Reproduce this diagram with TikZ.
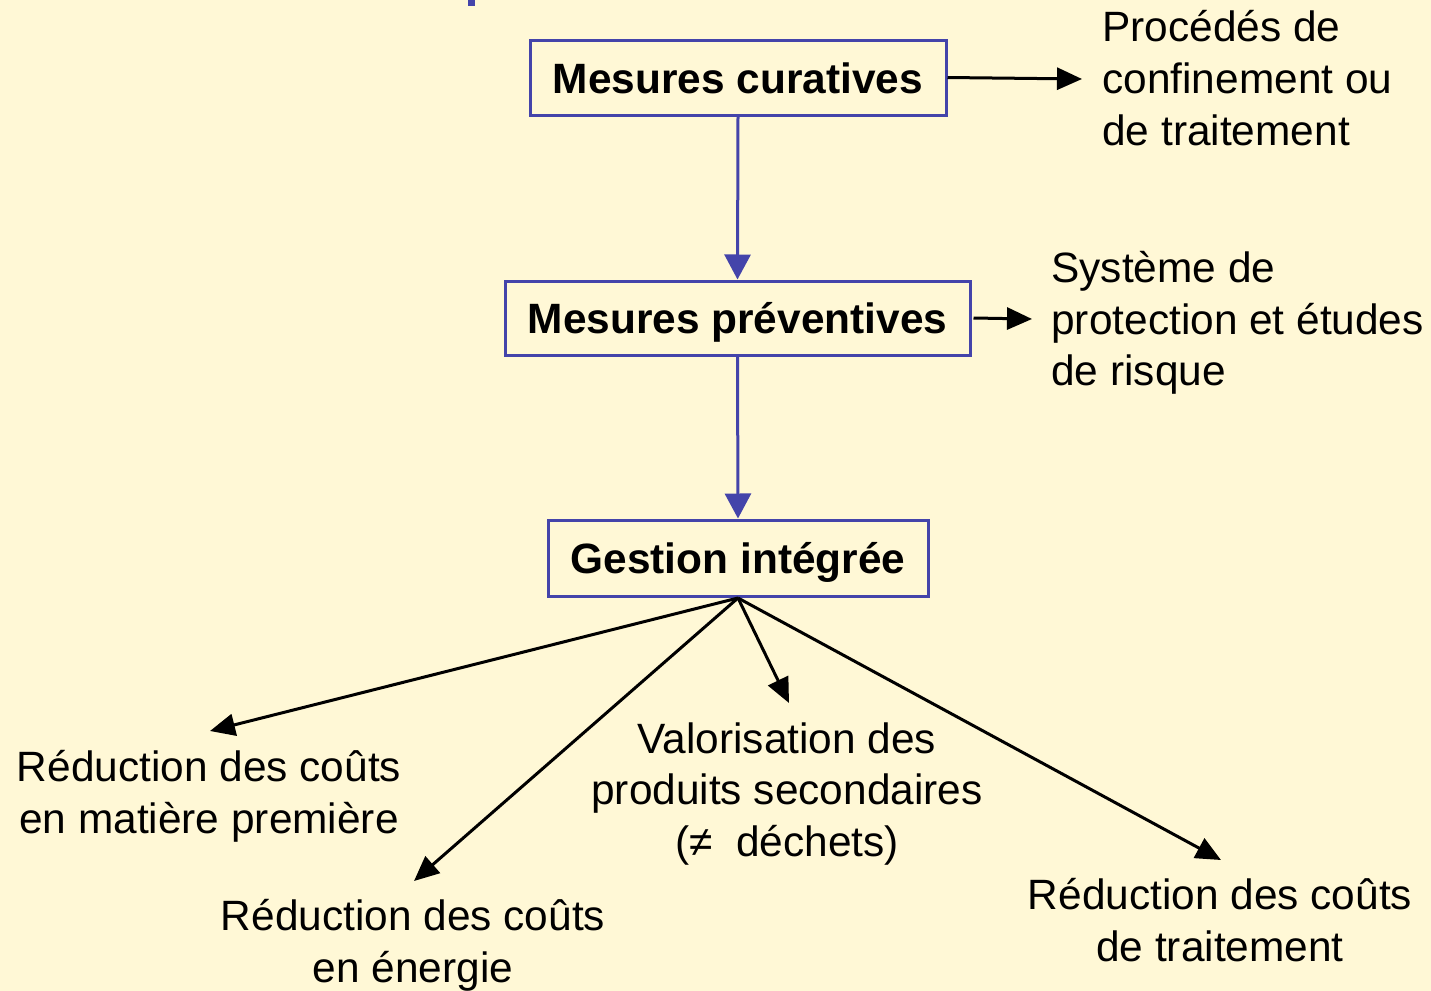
\documentclass[tikz,border=0pt]{standalone}
\usepackage{fontspec}
\setmainfont{Liberation Sans}
\usetikzlibrary{arrows.meta}
\definecolor{bgcream}{RGB}{255,248,214}
\definecolor{boxblue}{RGB}{68,68,170}
\newcommand{\boxtext}[2]{\raisebox{#1}[0pt][0pt]{#2}}
\begin{document}
\begin{tikzpicture}[x=0.5pt,y=-0.5pt,
  every node/.style={font=\fontsize{21.2}{25.8}\selectfont},
  mbox/.style={draw=boxblue,line width=1.5pt,inner sep=0pt,font=\fontsize{21.2}{25.8}\selectfont\bfseries},
  bluearrow/.style={draw=boxblue,line width=1.5pt,-{Triangle[length=12.5pt,width=13pt]}},
  blackarrow/.style={draw=black,line width=1.5pt,-{Triangle[length=12.5pt,width=11pt]}},
  lbl/.style={inner sep=0pt,align=center},
  lbll/.style={inner sep=0pt,align=left,anchor=west}]
\useasboundingbox[fill=bgcream] (0,0) rectangle (1431,991);
\fill[boxblue] (468,0) rectangle (475,6);

\node[mbox,minimum width=208pt,minimum height=37.5pt] (cur) at (738,77.5) {\boxtext{-8pt}{Mesures curatives}};
\node[mbox,minimum width=232.5pt,minimum height=37pt] (prev) at (737.5,318) {\boxtext{-7.6pt}{Mesures préventives}};
\node[mbox,minimum width=190pt,minimum height=38pt] (gest) at (738,558) {\boxtext{-7.6pt}{Gestion intégrée}};

\node[lbll] (proc) at (1102,78) {Procédés de\\confinement ou\\de traitement};
\node[lbll] (sys) at (1051,323) {Système de\\protection et études\\de risque};
\node[lbl] (rmat) at (209,796) {Réduction des coûts\\en matière première};
\node[lbl] (rene) at (413,945) {Réduction des coûts\\en énergie};
\node[lbl] (valo) at (787,794) {Valorisation des\\produits secondaires\\(≠\ \ déchets)};
\node[lbl] (rtra) at (1220,920) {Réduction des coûts\\de traitement};

\coordinate (tcur) at (1082,79);
\coordinate (tprev) at (1032,319);
\coordinate (g) at (738,598);
\coordinate (t1) at (210,731);
\coordinate (t2) at (414,881);
\coordinate (t3) at (789,703);
\coordinate (t4) at (1221,860);

\draw[bluearrow] (cur.south) -- (prev.north);
\draw[bluearrow] (prev.south) -- (gest.north);
\draw[blackarrow] (cur.east) -- (tcur);
\draw[blackarrow] ([xshift=1pt]prev.east) -- (tprev);
\draw[blackarrow] (g) -- (t1);
\draw[blackarrow] (g) -- (t2);
\draw[blackarrow] (g) -- (t3);
\draw[blackarrow] (g) -- (t4);
\end{tikzpicture}
\end{document}
